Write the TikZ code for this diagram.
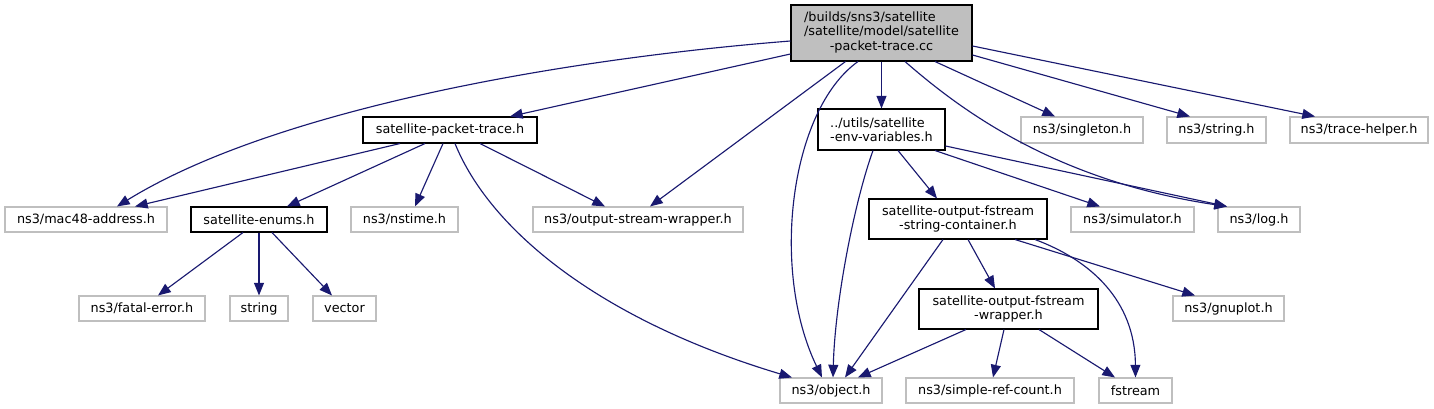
\documentclass[tikz,border=0pt]{standalone}
\usepackage{fontspec}
\setmainfont{DejaVu Sans}
\usetikzlibrary{arrows.meta,calc}
\definecolor{edgecol}{HTML}{191970}
\definecolor{graybd}{HTML}{BFBFBF}
\begin{document}
\begin{tikzpicture}[x=0.75pt,y=-0.75pt,
  sz/.style 2 args={minimum width=#1*0.75pt, minimum height=#2*0.75pt},
  base/.style={rectangle, inner sep=0pt, line width=0.8pt, font=\fontsize{9.6}{10.8}\selectfont, text=black},
  gbox/.style={base, draw=graybd, fill=white},
  bbox/.style={base, draw=black, fill=white},
  topbox/.style={base, draw=black, fill=graybd},
  dep/.style={draw=edgecol, line width=0.85pt, -{Triangle[length=9.5pt,width=7.5pt]}}]
\useasboundingbox (0,0) rectangle (1434,409);
\fill[white] (0,0) rectangle (1434,409);

% nodes
\node[topbox, sz={181}{56}] (T) at (881.5,33) {\begin{tabular}{@{}l@{}}/builds/sns3/satellite\\/satellite/model/satellite\\\multicolumn{1}{@{}c@{}}{-packet-trace.cc}\end{tabular}};
\node[bbox, sz={174}{26}] (spt) at (450,130) {satellite-packet-trace.h};
\node[bbox, sz={127}{41}, align=left] (env) at (881.5,129.5) {../utils/satellite\\-env-variables.h};
\node[gbox, sz={122}{26}] (sing) at (1082,130) {ns3/singleton.h};
\node[gbox, sz={99}{26}] (str) at (1216.5,130) {ns3/string.h};
\node[gbox, sz={138}{26}] (trace) at (1359,130) {ns3/trace-helper.h};
\node[gbox, sz={162}{25}] (mac) at (86,219.5) {ns3/mac48-address.h};
\node[bbox, sz={136}{25}] (enums) at (259,219.5) {satellite-enums.h};
\node[gbox, sz={107}{25}] (nstime) at (404.5,219.5) {ns3/nstime.h};
\node[gbox, sz={210}{25}] (osw) at (638,219.5) {ns3/output-stream-wrapper.h};
\node[bbox, sz={178}{40}, align=center] (fsc) at (958,219) {satellite-output-fstream\\-string-container.h};
\node[gbox, sz={123}{25}] (sim) at (1132.5,219.5) {ns3/simulator.h};
\node[gbox, sz={82}{25}] (log) at (1259,219.5) {ns3/log.h};
\node[gbox, sz={126}{25}] (fatal) at (142,308.5) {ns3/fatal-error.h};
\node[gbox, sz={58}{25}] (string) at (259,308.5) {string};
\node[gbox, sz={63}{25}] (vector) at (344.5,308.5) {vector};
\node[bbox, sz={179}{40}, align=center] (fsw) at (1008.5,309) {satellite-output-fstream\\-wrapper.h};
\node[gbox, sz={111}{25}] (gnu) at (1228.5,308.5) {ns3/gnuplot.h};
\node[gbox, sz={102}{25}] (obj) at (831,390.5) {ns3/object.h};
\node[gbox, sz={168}{25}] (src) at (990,390.5) {ns3/simple-ref-count.h};
\node[gbox, sz={73}{25}] (fstr) at (1135.5,390.5) {fstream};

% edges from top node
\draw[dep] ($(T.west)+(0,8)$) .. controls (550,60) and (270,112) .. ($(mac.north)+(31,0)$);
\draw[dep] ($(T.west)+(0,21)$) -- ($(spt.north)+(60,0)$);
\draw[dep] ($(T.south)+(-36,0)$) -- ($(osw.north)+(12,0)$);
\draw[dep] ($(T.south)+(-23.5,0)$) .. controls (790,110) and (770,270) .. ($(obj.north)+(-9,0)$);
\draw[dep] (T.south) -- (env.north);
\draw[dep] ($(T.south)+(23.5,0)$) .. controls (955,105) and (1050,180) .. ($(log.north)+(-32,0)$);
\draw[dep] ($(T.south)+(53.5,0)$) -- ($(sing.north)+(-27,0)$);
\draw[dep] ($(T.east)+(0,22)$) -- ($(str.north)+(-26.5,0)$);
\draw[dep] ($(T.east)+(0,13)$) -- ($(trace.north)+(-44,0)$);

% edges from satellite-packet-trace.h
\draw[dep] ($(spt.south)+(-50,0)$) -- ($(mac.north)+(49,0)$);
\draw[dep] ($(spt.south)+(-25,0)$) -- ($(enums.north)+(28,0)$);
\draw[dep] ($(spt.south)+(-7,0)$) -- ($(nstime.north)+(10.5,0)$);
\draw[dep] ($(spt.south)+(5,0)$) .. controls (490,230) and (600,320) .. ($(obj.north)+(-39,0)$);
\draw[dep] ($(spt.south)+(30,0)$) -- ($(osw.north)+(-33,0)$);

% edges from env-variables
\draw[dep] ($(env.south)+(-8.5,0)$) .. controls (855,200) and (835,300) .. ($(obj.north)+(2,0)$);
\draw[dep] ($(env.south)+(16.5,0)$) -- ($(fsc.north)+(-21,0)$);
\draw[dep] ($(env.south)+(53.5,0)$) -- ($(sim.north)+(-32.5,0)$);
\draw[dep] ($(env.east)+(0,16.5)$) -- ($(log.north)+(-32,0)$);

% edges from fstream string container
\draw[dep] ($(fsc.south)+(-15,0)$) -- ($(obj.north)+(14,0)$);
\draw[dep] ($(fsc.south)+(10,0)$) -- ($(fsw.north)+(-13.5,0)$);
\draw[dep] ($(fsc.south)+(57,0)$) -- ($(gnu.north)+(-33.5,0)$);
\draw[dep] ($(fsc.south)+(77,0)$) .. controls (1090,260) and (1135,300) .. (fstr.north);

% edges from fstream wrapper
\draw[dep] ($(fsw.south)+(-42.5,0)$) -- ($(obj.north)+(27,0)$);
\draw[dep] ($(fsw.south)+(-4.5,0)$) -- ($(src.north)+(3,0)$);
\draw[dep] ($(fsw.south)+(30.5,0)$) -- ($(fstr.north)+(-20.5,0)$);

% edges from satellite-enums.h
\draw[dep] ($(enums.south)+(-16,0)$) -- ($(fatal.north)+(16,0)$);
\draw[dep] (enums.south) -- (string.north);
\draw[dep] ($(enums.south)+(13,0)$) -- ($(vector.north)+(-12.5,0)$);
\end{tikzpicture}
\end{document}
